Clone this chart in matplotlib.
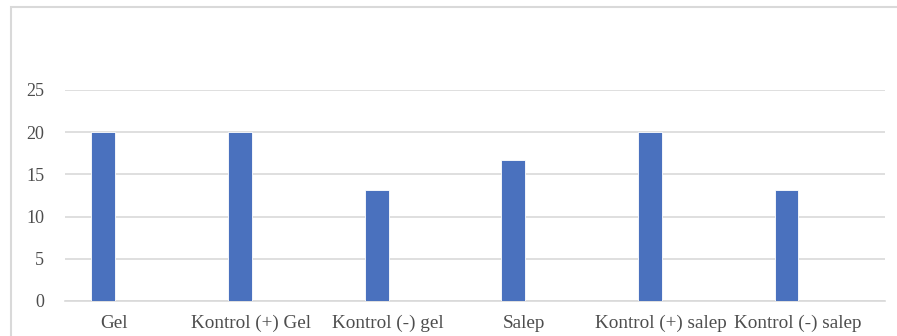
import numpy as np
import matplotlib
matplotlib.use("Agg")
import matplotlib.pyplot as plt
from matplotlib.patches import Rectangle

# Data
categories = ["Gel", "Kontrol (+) Gel", "Kontrol (-) gel",
              "Salep", "Kontrol (+) salep", "Kontrol (-) salep"]
values = [20, 20, 13.2, 16.7, 20, 13.2]
yticks = [0, 5, 10, 15, 20, 25]

plt.rcParams['font.family'] = ['Liberation Serif', 'DejaVu Serif']

fig = plt.figure(figsize=(8.97, 3.36), dpi=100)
ax = fig.add_axes([0.0725, 0.1042, 0.914, 0.628])

x = np.arange(len(categories))
# bars sit left of each category slot (clustered layout with empty series)
ax.bar(x - 0.22, values, width=0.175, color="#4a71be",
       edgecolor="white", linewidth=0.6, zorder=3)

ax.set_xlim(-0.5, len(categories) - 0.5)
ax.set_ylim(0, 25)
ax.set_yticks(yticks)
ax.set_xticks(x - 0.14)
ax.set_xticklabels(categories)

ax.grid(axis="y", color="#d9d9d9", linewidth=1.2, zorder=0)
for s in ["top", "right", "left"]:
    ax.spines[s].set_visible(False)
ax.spines["bottom"].set_color("#d9d9d9")
ax.spines["bottom"].set_linewidth(1.2)
ax.tick_params(axis="both", length=0, colors="#4d4d4d")
ax.tick_params(axis="x", pad=10, labelsize=13.8)
ax.tick_params(axis="y", pad=15, labelsize=13)

# outer chart frame
fig.patches.append(Rectangle((11 / 897, -0.05), 1.0, 1 - 7 / 336 + 0.05,
                             transform=fig.transFigure, fill=False,
                             edgecolor="#d9d9d9", linewidth=1.5))

fig.savefig("out.png", dpi=100, facecolor="white")
